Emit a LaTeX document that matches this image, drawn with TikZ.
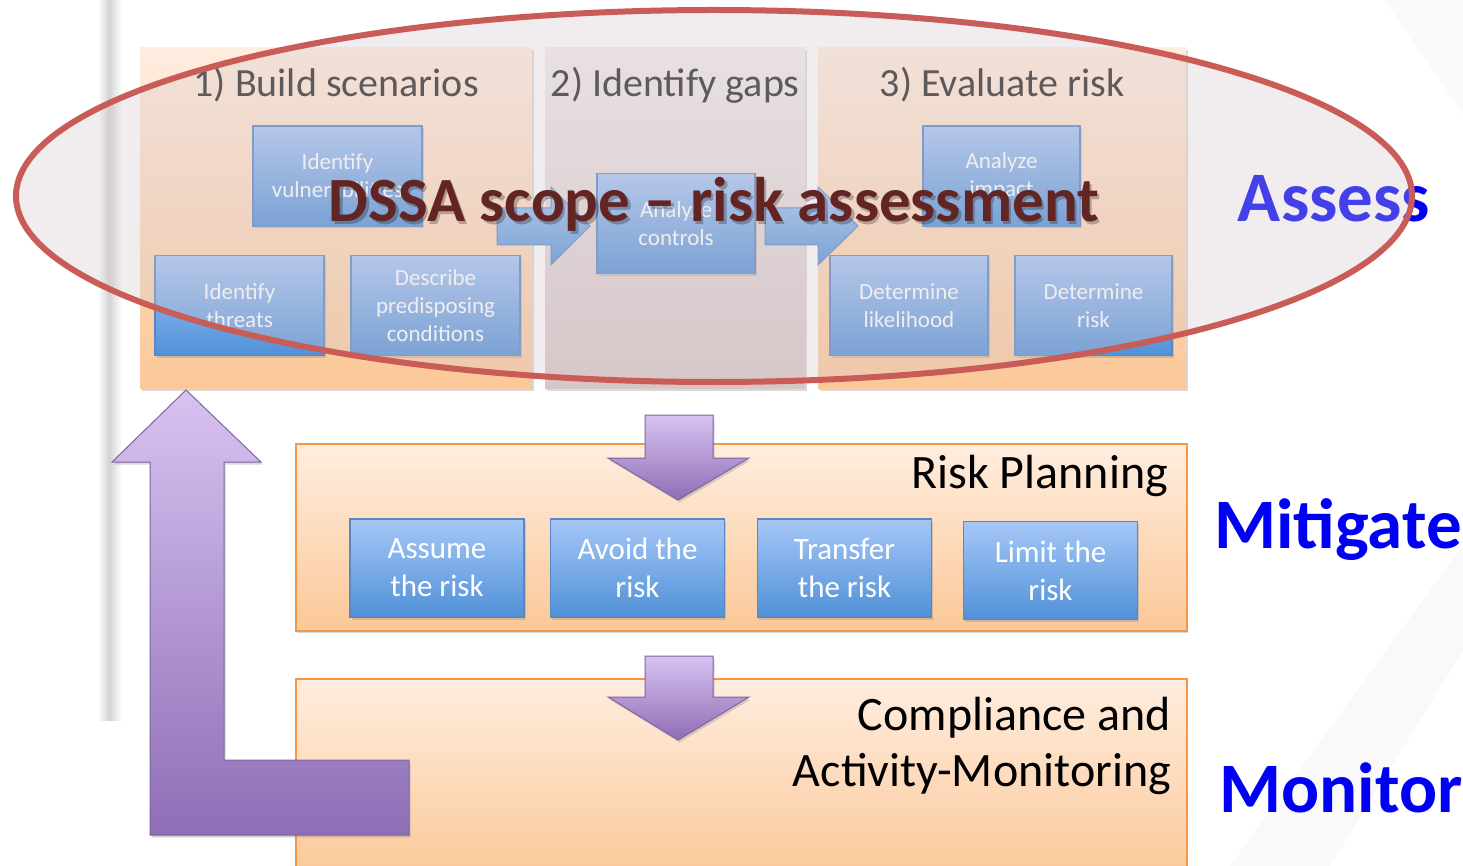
\documentclass[tikz,border=0pt]{standalone}
\usepackage{fontspec}
\setmainfont{Carlito}
\usepackage{tikz}
\usetikzlibrary{shadows}
\usetikzlibrary{calc}
\usetikzlibrary{positioning}

\definecolor{peachtop}{RGB}{255,237,223}
\definecolor{peachbot}{RGB}{251,200,152}
\definecolor{gaptop}{RGB}{242,236,236}
\definecolor{gapbot}{RGB}{214,198,198}
\definecolor{laneline}{RGB}{247,150,70}
\definecolor{boxtop}{RGB}{166,199,247}
\definecolor{boxbot}{RGB}{80,145,216}
\definecolor{boxline}{RGB}{88,136,196}
\definecolor{violettop}{RGB}{216,194,241}
\definecolor{violetbot}{RGB}{142,110,182}
\definecolor{violetline}{RGB}{128,100,162}
\definecolor{scopered}{RGB}{201,92,86}
\definecolor{scopefill}{RGB}{214,200,206}
\definecolor{scopetext}{RGB}{99,37,35}
\definecolor{phaseblue}{RGB}{0,0,245}

\begin{document}
\begin{tikzpicture}[x=1pt,y=-1pt,
  softshadow/.style={drop shadow={shadow xshift=1.5pt,shadow yshift=-2.5pt,opacity=.3}},
  stage/.style={anchor=north west, inner sep=0pt, top color=peachtop, bottom color=peachbot, softshadow},
  lane/.style={stage, draw=laneline, line width=1.5pt, minimum width=891pt},
  actbox/.style={draw=boxline, line width=1.2pt, top color=boxtop, bottom color=boxbot, text=white, align=center, inner sep=2pt, softshadow},
  taskbox/.style={actbox, font=\fontsize{23}{28}\selectfont, minimum height=100pt},
  optionbox/.style={actbox, font=\fontsize{31}{38}\selectfont, minimum width=174pt, minimum height=98pt},
  stagetitle/.style={anchor=base, text=black!85, font=\fontsize{40}{44}\selectfont},
  lanetitle/.style={text=black, font=\fontsize{48}{56}\selectfont},
  phase/.style={anchor=base, text=phaseblue, font=\bfseries\fontsize{71}{80}\selectfont},
  bluearrow/.style={draw=boxline, line width=1pt, top color=boxtop, bottom color=boxbot},
  violetarrow/.style={draw=violetline, line width=1pt, top color=violettop, bottom color=violetbot, softshadow}]

\useasboundingbox (0,0) rectangle (1463,866);
\fill[white] (0,0) rectangle (1463,866);
\fill[gray!5] (1230,866) -- (1330,866) -- (1463,650) -- (1463,545) -- cycle;
\fill[gray!4] (1385,0) -- (1463,0) -- (1463,115) -- cycle;
\fill[left color=white, right color=gray!35] (98,0) rectangle (109,720);
\fill[left color=gray!35, right color=white] (109,0) rectangle (122,720);

\node[stage, minimum width=392pt, minimum height=341pt] (p1) at (140,47) {};
\node[stage, top color=gaptop, bottom color=gapbot, minimum width=260pt, minimum height=341pt] (p2) at (545,47) {};
\node[stage, minimum width=368pt, minimum height=341pt] (p3) at (818,47) {};

\node[stagetitle] at ($(p1.north)+(0,50)$) {1) Build scenarios};
\node[stagetitle] at ($(p2.north)+(0,50)$) {2) Identify gaps};
\node[stagetitle] at ($(p3.north)+(0,50)$) {3) Evaluate risk};

\node[taskbox, minimum width=169pt] (vuln) at (337.5,176) {Identify\\vulnerabilities};
\node[taskbox, minimum width=169pt] (threats) at (239.5,305.5) {Identify\\threats};
\node[taskbox, minimum width=169pt] (cond) at (435.5,305.5) {Describe\\predisposing\\conditions};
\node[taskbox, minimum width=158pt] (controls) at (676,223.5) {Analyze\\controls};
\node[taskbox, minimum width=157pt] (impact) at (1001.5,176) {Analyze\\impact};
\node[taskbox, minimum width=158pt] (likeli) at (909,305.5) {Determine\\likelihood};
\node[taskbox, minimum width=157pt] (risk) at (1093.5,305.5) {Determine\\risk};

\draw[bluearrow] (497,208) -- (551,208) -- (551,187) -- (590,226) -- (551,265) -- (551,245) -- (497,245) -- cycle;
\draw[bluearrow] (765,208) -- (818,208) -- (818,187) -- (858,226) -- (818,265) -- (818,245) -- (765,245) -- cycle;

\node[lane, minimum height=187pt] (plan) at (295,443) {};
\node[lane, minimum height=200pt] (mon) at (295,678) {};

\node[lanetitle, anchor=base east] at ($(plan.north east)+(-16,45)$) {Risk Planning};
\node[lanetitle, anchor=north east, align=right] at ($(mon.north east)+(-13,16)$) {Compliance and\\Activity-Monitoring};

\node[optionbox] (assume) at (437,568) {Assume\\the risk};
\node[optionbox] (avoid) at (637.5,568) {Avoid the\\risk};
\node[optionbox] (transfer) at (844.5,568) {Transfer\\the risk};
\node[optionbox] (limit) at (1050.5,570.5) {Limit the\\risk};

\draw[violetarrow] (645,415) -- (713,415) -- (713,458) -- (749,458) -- (678,500) -- (608,458) -- (645,458) -- cycle;
\draw[violetarrow] (645,656) -- (713,656) -- (713,697) -- (749,697) -- (678,740) -- (608,697) -- (645,697) -- cycle;
\draw[violetarrow] (186,390) -- (261,462) -- (224,462) -- (224,760) -- (409,760) -- (409,835) -- (150,835) -- (150,462) -- (112,462) -- cycle;

\node[phase] (assess) at (1334,222) {Assess};
\node[phase] (mitigate) at (1338,548) {Mitigate};
\node[phase] (monitor) at (1341,812) {Monitor};

\draw[draw=scopered, line width=6pt, fill=scopefill, fill opacity=.32] (714,196) ellipse [x radius=698, y radius=186];

\node[anchor=base, text=black, opacity=.25, font=\bfseries\fontsize{63}{70}\selectfont] at (716.5,224.5) {DSSA scope -- risk assessment};
\node[anchor=base, text=scopetext, font=\bfseries\fontsize{63}{70}\selectfont] (scope) at (714,222) {DSSA scope -- risk assessment};
\end{tikzpicture}
\end{document}
